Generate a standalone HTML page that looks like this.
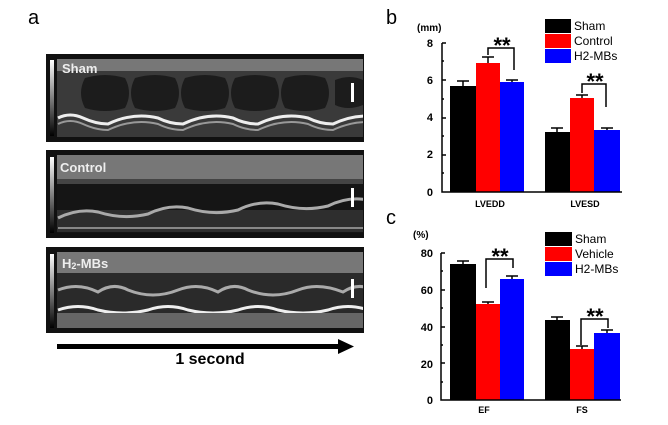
<!DOCTYPE html>
<html><head><style>body{margin:0;background:#fff}svg{display:block}text{font-family:"Liberation Sans",Arial,sans-serif}</style></head><body>
<svg width="668" height="425" viewBox="0 0 668 425" xmlns="http://www.w3.org/2000/svg">
<defs>
<linearGradient id="sb" x1="0" y1="0" x2="0" y2="1"><stop offset="0" stop-color="#fff"/><stop offset="1" stop-color="#000"/></linearGradient>
<clipPath id="c1"><rect x="57" y="59" width="306" height="78"/></clipPath>
<clipPath id="c2"><rect x="57" y="155" width="306" height="78"/></clipPath>
<clipPath id="c3"><rect x="57" y="252" width="306" height="76"/></clipPath>
</defs>
<text x="28" y="24" font-size="20">a</text>
<rect x="46" y="54" width="318" height="88" fill="#111"/>
<g clip-path="url(#c1)">
<rect x="57" y="59" width="306" height="78" fill="#3a3a3a"/>
<rect x="57" y="59" width="306" height="12" fill="#777"/>
<path d="M85,78 q20,-6 40,0 q8,15 0,30 q-20,6 -40,0 q-8,-15 0,-30z M135,78 q20,-6 40,0 q8,15 0,30 q-20,6 -40,0 q-8,-15 0,-30z M185,78 q20,-6 40,0 q8,15 0,30 q-20,6 -40,0 q-8,-15 0,-30z M235,78 q20,-6 40,0 q8,15 0,30 q-20,6 -40,0 q-8,-15 0,-30z M285,78 q20,-6 40,0 q8,15 0,30 q-20,6 -40,0 q-8,-15 0,-30z M335,80 q15,-6 28,0 v25 q-15,6 -28,0z" fill="#1c1c1c"/>
<path d="M58,118 q12,-6 25,0 t25,6 q25,-12 50,-6 q12,6 25,6 q25,-12 50,-6 q12,6 25,6 q25,-12 50,-6 q12,6 25,6 q25,-12 50,-6" stroke="#eee" stroke-width="3" fill="none"/>
<path d="M58,124 q12,-6 25,0 t25,6 q25,-12 50,-6 q12,6 25,6 q25,-12 50,-6 q12,6 25,6 q25,-12 50,-6 q12,6 25,6 q25,-12 50,-6" stroke="#999" stroke-width="2" fill="none"/>
</g>
<rect x="50" y="60" width="4" height="76" fill="url(#sb)"/>
<rect x="351" y="83" width="3" height="19" fill="#fff"/>
<text x="62" y="73" font-size="13" font-weight="bold" fill="#eee">Sham</text>
<rect x="46" y="150" width="318" height="88" fill="#111"/>
<g clip-path="url(#c2)">
<rect x="57" y="155" width="306" height="78" fill="#151515"/>
<rect x="57" y="155" width="306" height="24" fill="#777"/>
<rect x="57" y="179" width="306" height="5" fill="#444"/>
<rect x="57" y="210" width="306" height="22" fill="#555" opacity="0.4"/>
<path d="M58,218 q20,-10 40,-6 q25,8 50,2 q20,-10 40,-6 q25,8 50,2 q20,-10 40,-6 q25,8 50,2 q20,-10 40,-6" stroke="#aaa" stroke-width="3" fill="none"/>
<path d="M58,228 h305" stroke="#888" stroke-width="2"/>
</g>
<rect x="50" y="157" width="4" height="76" fill="url(#sb)"/>
<rect x="351" y="188" width="3" height="19" fill="#fff"/>
<text x="60" y="172" font-size="13" font-weight="bold" fill="#eee">Control</text>
<rect x="46" y="247" width="318" height="86" fill="#111"/>
<g clip-path="url(#c3)">
<rect x="57" y="252" width="306" height="76" fill="#2a2a2a"/>
<rect x="57" y="252" width="306" height="21" fill="#777"/>
<path d="M58,290 q20,-8 40,2 q15,-10 30,-2 q25,10 50,0 q20,-8 40,2 q15,-10 30,-2 q25,10 50,0 q20,-8 45,2 q15,-10 30,-2" stroke="#aaa" stroke-width="3" fill="none"/>
<path d="M58,310 q20,-7 40,0 q25,6 50,0 q20,-7 40,0 q25,6 50,0 q20,-7 40,0 q25,6 50,0 q20,-7 40,0" stroke="#eee" stroke-width="3" fill="none"/>
<rect x="57" y="313" width="306" height="15" fill="#666"/>
</g>
<rect x="50" y="254" width="4" height="74" fill="url(#sb)"/>
<rect x="351" y="279" width="3" height="19" fill="#fff"/>
<text x="62" y="268" font-size="13" font-weight="bold" fill="#eee">H<tspan font-size="9" dy="1">2</tspan><tspan dy="-1">-MBs</tspan></text>
<rect x="57" y="344" width="284" height="5" fill="#000"/>
<polygon points="338,339 354,346.5 338,354" fill="#000"/>
<text x="210" y="364" font-size="16" font-weight="bold" text-anchor="middle">1 second</text>

<text x="386" y="24" font-size="20">b</text>
<text x="417" y="31" font-size="10" font-weight="bold">(mm)</text>
<g font-size="11" font-weight="bold" text-anchor="end">
<text x="433" y="47">8</text><text x="433" y="84">6</text><text x="433" y="121">4</text><text x="433" y="158">2</text><text x="433" y="196">0</text></g>
<rect x="450" y="86" width="26" height="106" fill="#000"/>
<rect x="476" y="63" width="24" height="129" fill="#f00"/>
<rect x="500" y="82" width="24" height="110" fill="#00f"/>
<rect x="545" y="132" width="25" height="60" fill="#000"/>
<rect x="570" y="98" width="24" height="94" fill="#f00"/>
<rect x="594" y="130" width="26" height="62" fill="#00f"/>
<g stroke="#000" stroke-width="1.5" fill="none">
<path d="M463,86v-5M457,81h12M488,63v-6M482,57h12M512,82v-2M506,80h12M557,132v-4M551,128h12M582,98v-3M576,95h12M607,130v-2M601,128h12"/>
<path d="M488,55v-7h26v22M582,93v-9h24v23"/>
<path d="M442,43v149h180M442,43h4M442,80h4M442,118h4M442,155h4M442,61h2M442,99h2M442,136h2M442,173h2"/>
</g>
<text x="502" y="53" font-size="22" font-weight="bold" text-anchor="middle">**</text>
<text x="595" y="89" font-size="22" font-weight="bold" text-anchor="middle">**</text>
<text x="490" y="207" font-size="9" font-weight="bold" text-anchor="middle">LVEDD</text>
<text x="585" y="207" font-size="9" font-weight="bold" text-anchor="middle">LVESD</text>
<rect x="545" y="19" width="26" height="14" fill="#000"/>
<rect x="545" y="34" width="26" height="14" fill="#f00"/>
<rect x="545" y="49" width="26" height="14" fill="#00f"/>
<g font-size="12"><text x="574" y="30">Sham</text><text x="574" y="45">Control</text><text x="574" y="60">H2-MBs</text></g>

<text x="386" y="224" font-size="20">c</text>
<text x="413" y="238" font-size="10" font-weight="bold">(%)</text>
<g font-size="11" font-weight="bold" text-anchor="end">
<text x="433" y="257">80</text><text x="433" y="294">60</text><text x="433" y="331">40</text><text x="433" y="368">20</text><text x="433" y="404">0</text></g>
<rect x="450" y="264" width="26" height="136" fill="#000"/>
<rect x="476" y="304" width="24" height="96" fill="#f00"/>
<rect x="500" y="279" width="24" height="121" fill="#00f"/>
<rect x="545" y="320" width="25" height="80" fill="#000"/>
<rect x="570" y="349" width="24" height="51" fill="#f00"/>
<rect x="594" y="333" width="26" height="67" fill="#00f"/>
<g stroke="#000" stroke-width="1.5" fill="none">
<path d="M463,264v-3M457,261h12M488,304v-2M482,302h12M512,279v-3M506,276h12M557,320v-3M551,317h12M582,349v-3M576,346h12M607,333v-3M601,330h12"/>
<path d="M486,288v-29h27v9M581,345v-26h27v9"/>
<path d="M441,253v147h180M441,253h4M441,290h4M441,327h4M441,363h4M441,271h2M441,308h2M441,345h2M441,382h2"/>
</g>
<text x="500" y="264" font-size="22" font-weight="bold" text-anchor="middle">**</text>
<text x="595" y="324" font-size="22" font-weight="bold" text-anchor="middle">**</text>
<text x="484" y="413" font-size="9" font-weight="bold" text-anchor="middle">EF</text>
<text x="582" y="413" font-size="9" font-weight="bold" text-anchor="middle">FS</text>
<rect x="545" y="232" width="27" height="14" fill="#000"/>
<rect x="545" y="247" width="27" height="14" fill="#f00"/>
<rect x="545" y="262" width="27" height="14" fill="#00f"/>
<g font-size="12"><text x="575" y="243">Sham</text><text x="575" y="258">Vehicle</text><text x="575" y="273">H2-MBs</text></g>
</svg>
</body></html>
